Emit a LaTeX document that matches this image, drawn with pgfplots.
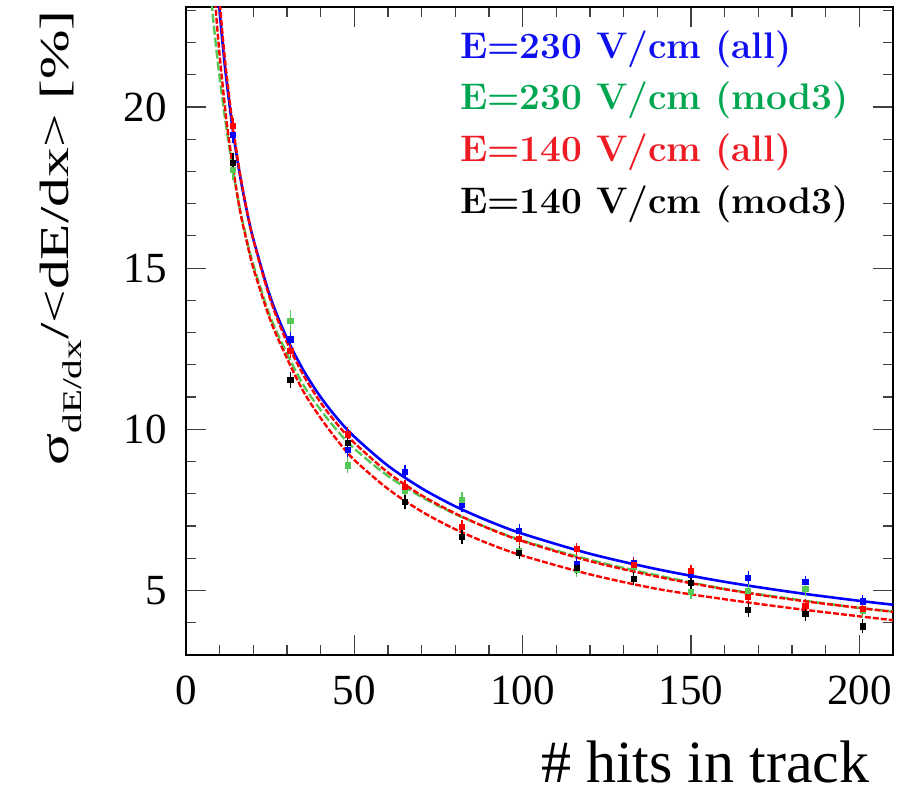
\documentclass[border=0pt]{standalone}
\usepackage{fontspec}
\usepackage{graphicx}
\usepackage{pgfplots}
\usepackage{pgfplotstable}
\pgfplotsset{compat=1.18}
\newfontfamily\rootfont{Liberation Serif}
\definecolor{cblue}{RGB}{0,0,255}
\definecolor{cgreen}{RGB}{85,200,85}
\definecolor{cred}{RGB}{255,0,0}
\definecolor{tblue}{RGB}{15,15,240}
\definecolor{tgreen}{RGB}{0,165,80}
\definecolor{tred}{RGB}{237,28,36}

% fitted curves
\pgfplotstableread{
x y
9 24.29
10 22.96
11 21.83
12 20.85
14 19.21
16 17.90
18 16.81
20 15.90
25 14.12
30 12.82
35 11.81
40 11.00
45 10.33
50 9.77
60 8.87
70 8.17
80 7.61
90 7.15
100 6.76
120 6.14
140 5.66
160 5.27
180 4.95
200 4.68
210 4.56
}\fitblue
\pgfplotstableread{
x y
7 24.0
7.5 23.4
8 22.8
9 21.8
10 20.9
11 20.1
12 19.35
14 18.0
16 16.85
18 15.9
20 15.1
25 13.5
30 12.35
35 11.35
40 10.6
45 9.95
50 9.4
60 8.55
70 7.9
80 7.37
90 6.93
100 6.55
120 5.95
140 5.47
160 5.05
180 4.74
200 4.46
210 4.35
}\fitgreen
\pgfplotstableread{
x y
9 24.68
10 23.28
11 22.09
12 21.06
14 19.34
16 17.96
18 16.83
20 15.88
25 14.04
30 12.70
35 11.66
40 10.83
45 10.15
50 9.58
60 8.66
70 7.95
80 7.39
90 6.92
100 6.53
120 5.91
140 5.43
160 5.04
180 4.72
200 4.46
210 4.34
}\fitred
\pgfplotstableread{
x y
8 24.5
8.8 23.1
10 21.6
12 19.6
14 18.1
16 16.8
18 15.85
20 15.0
25 13.4
30 12.2
35 11.15
40 10.35
45 9.65
50 9.05
60 8.15
70 7.45
80 6.9
90 6.45
100 6.08
120 5.5
140 5.05
160 4.73
180 4.45
200 4.2
210 4.08
}\fitredlow

% measured points
\pgfplotstableread{
x y e
14 19.13 0.15
31 12.79 0.15
48 9.35 0.12
65 8.67 0.12
82 7.67 0.12
99 6.86 0.10
116 5.83 0.10
133 5.85 0.10
150 5.50 0.10
167 5.40 0.10
184 5.26 0.10
201 4.66 0.10
}\datblue
\pgfplotstableread{
x y e
14 18.04 0.20
31 13.36 0.25
48 8.88 0.15
65 8.08 0.15
82 7.80 0.15
99 6.24 0.12
116 5.64 0.12
133 5.75 0.12
150 4.95 0.12
167 4.97 0.12
184 5.06 0.12
201 4.38 0.12
}\datgreen
\pgfplotstableread{
x y e
14 19.40 0.15
31 12.43 0.12
48 9.84 0.12
65 8.21 0.12
82 6.97 0.12
99 6.61 0.10
116 6.29 0.10
133 5.80 0.10
150 5.60 0.10
167 4.81 0.10
184 4.53 0.10
201 4.44 0.10
}\datred
\pgfplotstableread{
x y e
14 18.26 0.20
31 11.54 0.15
48 9.58 0.12
65 7.74 0.12
82 6.66 0.12
99 6.17 0.10
116 5.70 0.10
133 5.36 0.10
150 5.23 0.10
167 4.40 0.12
184 4.28 0.12
201 3.89 0.12
}\datblack

\begin{document}
\begin{tikzpicture}
\path[use as bounding box] (-93pt,-69pt) rectangle (360.5pt,327.5pt);
\begin{axis}[
  at={(0,0)}, anchor=south west,
  scale only axis, width=353.5pt, height=324pt,
  xmin=0, xmax=210, ymin=3, ymax=23.1,
  xtick={0,50,100,150,200},
  ytick={5,10,15,20},
  minor xtick={10,20,30,40,60,70,80,90,110,120,130,140,160,170,180,190},
  minor ytick={4,6,7,8,9,11,12,13,14,16,17,18,19,21,22,23},
  tick pos=both, tick align=inside,
  major tick length=10pt, minor tick length=5pt,
  every tick/.style={black!75, line width=0.6pt},
  axis line style={line width=1.2pt},
  /pgf/number format/assume math mode=true,
  ticklabel style={font=\rootfont\fontsize{21.5}{24}\selectfont, inner sep=0pt},
  xticklabel style={yshift=-10.5pt},
  yticklabel style={xshift=-9.5pt},
  xlabel={\rootfont\fontsize{30}{34}\selectfont \# hits in track},
  xlabel style={at={(axis description cs:0.9675,-0.197)}, anchor=base east, inner sep=0pt},
  ylabel={\rootfont\fontsize{20.5}{24}\selectfont\scalebox{1.45}[1]{σ\raisebox{-0.33em}{\fontsize{13.5}{16}\selectfont dE/dx}/<dE/dx> [\%]}},
  ylabel style={at={(axis description cs:-0.1667,0.9954)}, anchor=base east, inner sep=0pt},
  legend image code/.code={},
  legend cell align=left,
  legend style={at={(axis description cs:0.3876,0.9641)}, anchor=north west,
    draw=none, fill=none, inner sep=0pt, outer sep=0pt, row sep=10.6pt,
    font=\bfseries\fontsize{18.5}{22}\selectfont,
    nodes={inner sep=0pt, outer sep=0pt}},
]
\addplot[cblue, line width=1.3pt, smooth, forget plot] table[x=x,y=y]{\fitblue};
\addplot[cgreen, line width=1.2pt, dash pattern=on 4.5pt off 1.5pt, smooth, forget plot] table[x=x,y=y]{\fitgreen};
\addplot[cred, line width=1.2pt, dash pattern=on 3pt off 1pt, smooth, forget plot] table[x=x,y=y]{\fitred};
\addplot[cred, line width=1.2pt, dash pattern=on 3pt off 1pt, smooth, forget plot] table[x=x,y=y]{\fitredlow};

\addplot[cblue, only marks, mark=square*, mark size=1.3pt,
  error bars/.cd, y dir=both, y explicit,
  error bar style={line width=0.7pt}, error mark options={line width=0.7pt, mark size=1.6pt}]
  table[x=x,y=y,y error=e]{\datblue};
\addlegendentry[text=tblue]{E=230 V/cm (all)}
\addplot[cgreen, only marks, mark=square*, mark size=1.3pt,
  error bars/.cd, y dir=both, y explicit,
  error bar style={line width=0.7pt}, error mark options={line width=0.7pt, mark size=1.6pt}]
  table[x=x,y=y,y error=e]{\datgreen};
\addlegendentry[text=tgreen]{E=230 V/cm (mod3)}
\addplot[cred, only marks, mark=square*, mark size=1.3pt,
  error bars/.cd, y dir=both, y explicit,
  error bar style={line width=0.7pt}, error mark options={line width=0.7pt, mark size=1.6pt}]
  table[x=x,y=y,y error=e]{\datred};
\addlegendentry[text=tred]{E=140 V/cm (all)}
\addplot[black, only marks, mark=square*, mark size=1.3pt,
  error bars/.cd, y dir=both, y explicit,
  error bar style={line width=0.7pt}, error mark options={line width=0.7pt, mark size=1.6pt}]
  table[x=x,y=y,y error=e]{\datblack};
\addlegendentry[text=black]{E=140 V/cm (mod3)}
\end{axis}
\end{tikzpicture}
\end{document}
